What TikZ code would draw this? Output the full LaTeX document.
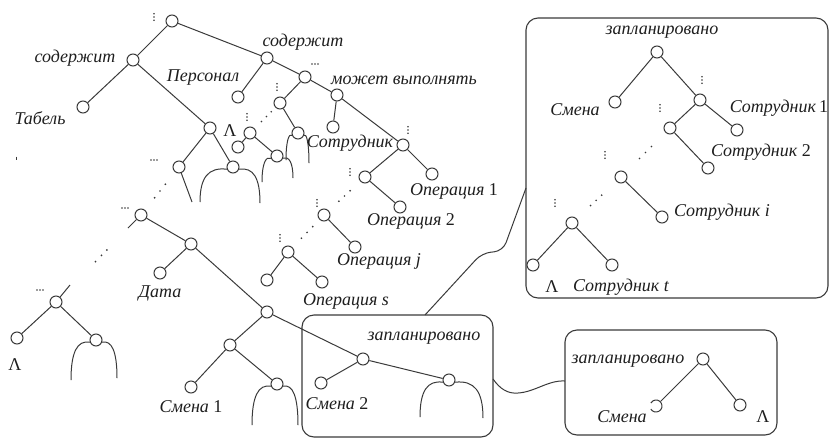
\documentclass[tikz,border=0pt]{standalone}
\usepackage{fontspec}
\setmainfont{Liberation Serif}
\usetikzlibrary{calc}
\definecolor{lc}{HTML}{3A3A3A}
\definecolor{tc}{HTML}{1E1E1E}
\tikzset{
  nd/.style={circle,draw=lc,fill=white,line width=1pt,minimum size=12pt,inner sep=0pt},
  ln/.style={draw=lc,line width=1pt},
  lab/.style={font=\fontsize{18}{20}\selectfont,text=tc,inner sep=1pt},
  it/.style={lab,font=\itshape\fontsize{18}{20}\selectfont},
  box/.style={draw=lc,line width=1.1pt,rounded corners=12pt,inner sep=0pt},
  dd/.style={circle,fill=lc,inner sep=0pt,minimum size=1.9pt},
  vd/.pic={\foreach \k in {-3.2,0,3.2} \fill[lc] (0,\k) circle (0.9);},
  hd/.pic={\foreach \k in {-3,0,3} \fill[lc] (\k,0) circle (0.85);}
}
% a pair of open arcs hanging below a node: node, left dx, left depth, right dx, right depth
\newcommand\tarch[5]{%
  \draw[ln] (#1.200) .. controls ($(#1)+(-0.75*#2,0)$) and ($(#1)+(-#2,0.3*#3)$) .. ($(#1)+(-#2,#3)$);
  \draw[ln] (#1.-20) .. controls ($(#1)+(0.75*#4,0)$) and ($(#1)+(#4,0.3*#5)$) .. ($(#1)+(#4,#5)$);}
% three dots along the way from one node to another
\newcommand\dotrun[5]{%
  \path (#1) -- (#2) node[dd,pos=#3]{} node[dd,pos=#4]{} node[dd,pos=#5]{};}
\begin{document}
\begin{tikzpicture}[x=1pt,y=-1pt]
\useasboundingbox (0,0) rectangle (831,440);

% ---------- frames ----------
\node[box,minimum width=191pt,minimum height=122pt] (b1) at (397.5,376) {};
\node[box,minimum width=302pt,minimum height=280pt] (b2) at (677,158) {};
\node[box,minimum width=212pt,minimum height=105pt] (b3) at (671,382.5) {};
\coordinate (b1t) at (425,315);
\coordinate (b1r) at (493,379);
\coordinate (b2l) at (526,188);
\coordinate (b3l) at (565,381);
\draw[ln,rounded corners=9pt] (b1t) -- (482,253) -- (503,251) -- (b2l);
\draw[ln] (b1r) .. controls (500,389) and (508,394) .. (518,393)
               .. controls (535,392) and (548,380) .. (b3l);

% ---------- main tree ----------
\node[nd] (r)   at (172,21) {};
\node[nd] (c1)  at (133,60) {};
\node[nd] (tb)  at (83,107) {};
\node[nd] (n1)  at (210,128) {};
\node[nd] (n2)  at (179,167) {};
\node[nd] (n3)  at (233,167) {};
\node[nd] (n4)  at (141,215) {};
\node[nd] (n5)  at (191,244) {};
\node[nd] (dt)  at (160,273) {};
\node[nd] (n6)  at (56,302) {};
\node[nd] (n7)  at (17,338) {};
\node[nd] (n8)  at (96,340) {};
\node[nd] (n9)  at (267,312) {};
\node[nd] (n10) at (230,345) {};
\node[nd] (sm1) at (191,387) {};
\node[nd] (n11) at (277,384) {};
\node[nd] (n12) at (363,359) {};
\node[nd] (sm2) at (321,383) {};
\node[nd] (n13) at (449,380) {};
\coordinate (s1) at (192,202);
\coordinate (s2) at (128,228);
\coordinate (s3) at (70,285);

\draw[ln] (r) -- (c1);
\draw[ln] (c1) -- (tb);
\draw[ln] (c1) -- (n1);
\draw[ln] (n1) -- (n2);
\draw[ln] (n1) -- (n3);
\draw[ln] (n2) -- (s1);
\draw[ln] (n4) -- (s2);
\draw[ln] (n4) -- (n5);
\draw[ln] (n5) -- (dt);
\draw[ln] (n5) -- (n9);
\draw[ln] (n6) -- (s3);
\draw[ln] (n6) -- (n7);
\draw[ln] (n6) -- (n8);
\draw[ln] (n9) -- (n10);
\draw[ln] (n9) -- (n12);
\draw[ln] (n10) -- (sm1);
\draw[ln] (n10) -- (n11);
\draw[ln] (n12) -- (sm2);
\draw[ln] (n12) -- (n13);
\dotrun{n2}{n4}{.32}{.5}{.68}
\dotrun{n4}{n6}{.39}{.46}{.54}

% ---------- staff branch ----------
\node[nd] (c2)  at (267,58) {};
\node[nd] (ps)  at (238,97) {};
\node[nd] (m1)  at (305,77) {};
\node[nd] (m2)  at (280,103) {};
\node[nd] (m3)  at (298,133) {};
\node[nd] (m4)  at (250,133) {};
\node[nd] (m5)  at (238,147) {};
\node[nd] (m6)  at (277,156) {};
\node[nd] (mv)  at (337,95) {};
\node[nd] (mv1) at (333,127) {};
\node[nd] (so)  at (403,145) {};
\node[nd] (o1)  at (432,174) {};
\node[nd] (p1)  at (365,177) {};
\node[nd] (o2)  at (400,207) {};
\node[nd] (p2)  at (324,215) {};
\node[nd] (oj)  at (355,247) {};
\node[nd] (p3)  at (288,252) {};
\node[nd] (p3a) at (267,280) {};
\node[nd] (os)  at (322,282) {};

\draw[ln] (r) -- (c2);
\draw[ln] (c2) -- (ps);
\draw[ln] (c2) -- (m1);
\draw[ln] (m1) -- (m2);
\draw[ln] (m1) -- (mv);
\draw[ln] (m2) -- (m3);
\draw[ln] (m4) -- (m5);
\draw[ln] (m4) -- (m6);
\draw[ln] (mv) -- (mv1);
\draw[ln] (mv) -- (so);
\draw[ln] (so) -- (p1);
\draw[ln] (so) -- (o1);
\draw[ln] (p1) -- (o2);
\draw[ln] (p2) -- (oj);
\draw[ln] (p3) -- (p3a);
\draw[ln] (p3) -- (os);
\dotrun{m2}{m4}{.2}{.43}{.67}
\dotrun{p1}{p2}{.32}{.5}{.68}
\dotrun{p2}{p3}{.25}{.46}{.67}

% open arcs
\tarch{n3}{33}{35}{27}{36}
\tarch{m3}{12}{27}{11}{30}
\tarch{m6}{15}{26}{16}{22}
\tarch{n8}{25}{40}{21}{38}
\tarch{n11}{25}{41}{21}{41}
\tarch{n13}{29}{37}{34}{38}

% ellipsis marks
\pic at (154,17) {vd};
\pic at (277,87) {vd};
\pic at (247,117) {vd};
\pic at (408,130) {vd};
\pic at (350,172) {vd};
\pic at (317,203) {vd};
\pic at (280,238) {vd};
\pic at (315,64) {hd};
\pic at (154,160) {hd};
\pic at (125,208) {hd};
\pic at (40,290) {hd};
\draw[lc,line width=0.8pt] (16,156.5) -- (16,159.5);

% labels
\node[it] (t1) at (75,58) {содержит};
\node[it] (t2) at (40,118) {Табель};
\node[it] (t3) at (303,42) {содержит};
\node[it] (t4) at (203,78) {Персонал};
\node[it] (t5) at (404,80) {может выполнять};
\node[lab] (t6) at (230,131) {Λ};
\node[it] (t7) at (350,143) {Сотрудник};
\node[lab] (t8) at (454,191) {\textit{Операция} 1};
\node[lab] (t9) at (411,221) {\textit{Операция} 2};
\node[it] (t10) at (379,261) {Операция j};
\node[it] (t11) at (346,301) {Операция s};
\node[it] (t12) at (160,293) {Дата};
\node[lab] (t13) at (191,407) {\textit{Смена} 1};
\node[lab] (t14) at (337,404) {\textit{Смена} 2};
\node[it] (t15) at (424,338) {запланировано};
\node[lab] (t16) at (15,365) {Λ};

% ---------- schedule frame (top right) ----------
\node[nd] (q0)  at (657,52) {};
\node[nd] (qs)  at (615,102) {};
\node[nd] (q1)  at (700,100) {};
\node[nd] (q1r) at (737,130) {};
\node[nd] (q2)  at (670,128) {};
\node[nd] (q2r) at (708,168) {};
\node[nd] (q3)  at (621,177) {};
\node[nd] (q3r) at (662,217) {};
\node[nd] (q4)  at (572,223) {};
\node[nd] (q4l) at (533,265) {};
\node[nd] (q4r) at (612,265) {};
\draw[ln] (q0) -- (qs);
\draw[ln] (q0) -- (q1);
\draw[ln] (q1) -- (q1r);
\draw[ln] (q1) -- (q2);
\draw[ln] (q2) -- (q2r);
\draw[ln] (q3) -- (q3r);
\draw[ln] (q4) -- (q4l);
\draw[ln] (q4) -- (q4r);
\dotrun{q2}{q3}{.35}{.5}{.65}
\dotrun{q3}{q4}{.37}{.51}{.65}
\pic at (702,80) {vd};
\pic at (660,108) {vd};
\pic at (605,155) {vd};
\pic at (555,203) {vd};
\node[it] (u1) at (662,32) {запланировано};
\node[it] (u2) at (575,110) {Смена};
\node[lab] (u3) at (779,108) {\textit{Сотрудник}\,1};
\node[lab] (u4) at (761,152) {\textit{Сотрудник} 2};
\node[it] (u5) at (722,212) {Сотрудник i};
\node[lab] (u6) at (552,287) {Λ};
\node[it] (u7) at (621,287) {Сотрудник t};

% ---------- schedule frame (bottom right) ----------
\node[nd] (z0) at (703,359) {};
\node[nd,draw=none,fill=none] (zs) at (656,406) {};
\node[nd] (zl) at (740,405) {};
\draw[ln] ([shift={(150:6)}]zs.center) arc[start angle=150,end angle=-150,radius=6];
\draw[ln] (z0) -- (zs);
\draw[ln] (z0) -- (zl);
\node[it] (w1) at (628,361) {запланировано};
\node[it] (w2) at (622,417) {Смена};
\node[lab] (w3) at (763,417) {Λ};
\end{tikzpicture}
\end{document}
